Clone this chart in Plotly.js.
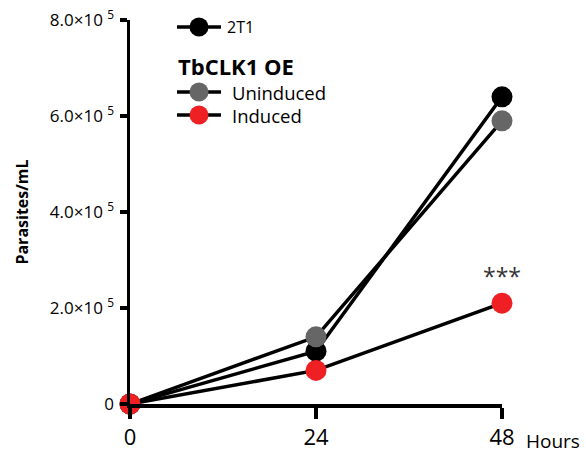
<!DOCTYPE html>
<html><head><meta charset="utf-8">
<script src="https://cdn.plot.ly/plotly-3.0.1.min.js"></script>
<style>body{margin:0;background:#fff}</style>
</head><body>
<div id="chart" style="width:586px;height:459px"></div>
<script>
const hours = [0, 24, 48];
const seriesNames = ["2T1", "Uninduced", "Induced"];
const val2T1 = [0, 110000, 640000];
const valUninduced = [0, 140000, 590000];
const valInduced = [0, 70000, 210000];
const yTickVals = [0, 200000, 400000, 600000, 800000];
const yTickText = ["0", "2.0\u00d710 <sup>5</sup>", "4.0\u00d710 <sup>5</sup>", "6.0\u00d710 <sup>5</sup>", "8.0\u00d710 <sup>5</sup>"];
const xTickText = ["0", "24", "48"];
const colors = ["#000000", "#666666", "#ee2024"];
const allVals = [val2T1, valUninduced, valInduced];
const FONT = "Open Sans, Liberation Sans, sans-serif";

const traces = allVals.map((v, i) => ({
  x: hours, y: v, type: "scatter", mode: "lines+markers", name: seriesNames[i],
  line: {color: "#000", width: 3.5},
  marker: {color: colors[i], size: 21, line: {width: 0}},
  cliponaxis: false, showlegend: false
}));

// Custom legend
const legendRows = [{y: 27, i: 0}, {y: 92, i: 1}, {y: 115, i: 2}];
const shapes = [];
const annotations = [];
legendRows.forEach(r => {
  shapes.push({type: "line", xref: "paper", yref: "paper",
    xsizemode: "pixel", ysizemode: "pixel", xanchor: 0, yanchor: 1,
    x0: 177 - 130, x1: 221 - 130, y0: -(r.y - 20), y1: -(r.y - 20),
    line: {color: "#000", width: 3.5}});
  shapes.push({type: "circle", xref: "paper", yref: "paper",
    xsizemode: "pixel", ysizemode: "pixel", xanchor: 0, yanchor: 1,
    x0: 199 - 130 - 9.5, x1: 199 - 130 + 9.5, y0: -(r.y - 20) - 9.5, y1: -(r.y - 20) + 9.5,
    fillcolor: colors[r.i], line: {width: 0}});
  annotations.push({xref: "paper", yref: "paper", x: 0, y: 1, xanchor: "left", yanchor: "middle",
    xshift: (r.i === 0 ? 225 : 230) - 130, yshift: -(r.y - 20), text: seriesNames[r.i], showarrow: false,
    font: {family: FONT, size: r.i === 0 ? 16 : 18.5, color: "#000"}});
});
annotations.push({xref: "paper", yref: "paper", x: 0, y: 1, xanchor: "left", yanchor: "middle",
  xshift: 176 - 130, yshift: -(66 - 20), text: "<b>TbCLK1 OE</b>", showarrow: false,
  font: {family: FONT, size: 22, color: "#000"}});
annotations.push({xref: "x", yref: "y", x: hours[2], y: valInduced[2], yshift: 27, text: "***", showarrow: false,
  font: {family: FONT, size: 23, color: "#333"}});
annotations.push({xref: "paper", yref: "paper", x: 1, y: 0, xanchor: "left", yanchor: "middle",
  xshift: 22, yshift: -37, text: "Hours", showarrow: false,
  font: {family: FONT, size: 19, color: "#000"}});

const layout = {
  width: 586, height: 459,
  margin: {l: 130, r: 84, t: 20, b: 55},
  paper_bgcolor: "#fff", plot_bgcolor: "#fff",
  showlegend: false,
  xaxis: {range: [0, 48], tickvals: hours, ticktext: xTickText, showgrid: false, zeroline: false,
    showline: true, linecolor: "#000", linewidth: 3.5, ticks: "outside", ticklen: 11, tickwidth: 3.5, tickcolor: "#000",
    tickfont: {family: FONT, size: 22, color: "#000"}, fixedrange: true},
  yaxis: {range: [0, 800000], tickvals: yTickVals, ticktext: yTickText, showgrid: false, zeroline: false,
    showline: true, linecolor: "#000", linewidth: 3.5, ticks: "outside", ticklen: 7, tickwidth: 3.5, tickcolor: "#000",
    tickfont: {family: FONT, size: 17, color: "#000"}, ticklabelstandoff: 2,
    title: {text: "<b>Parasites/mL</b>", font: {family: FONT, size: 16, color: "#000"}, standoff: 18}, fixedrange: true},
  shapes: shapes, annotations: annotations
};
Plotly.newPlot("chart", traces, layout, {displayModeBar: false, staticPlot: true});
</script>
</body></html>
